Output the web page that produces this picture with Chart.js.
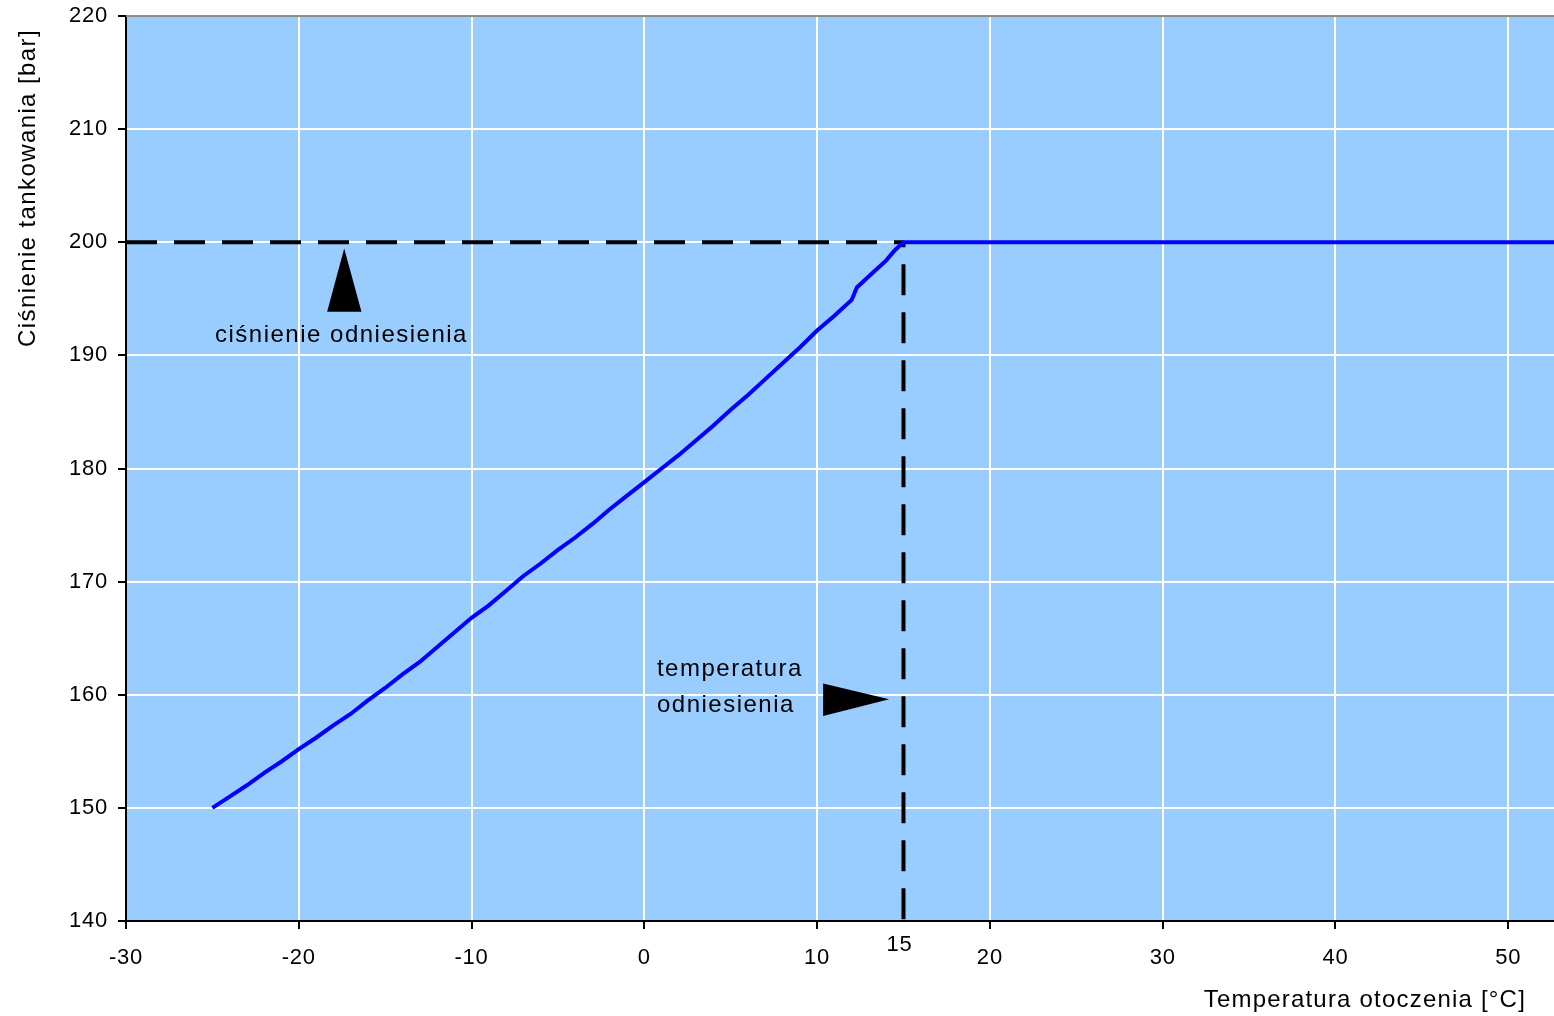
<!DOCTYPE html>
<html>
<head>
<meta charset="utf-8">
<script src="https://cdn.jsdelivr.net/npm/chart.js@4.4.1/dist/chart.umd.min.js"></script>
<style>
  html, body { margin: 0; padding: 0; background: #ffffff; }
  #wrap { width: 1554px; height: 1016px; position: relative; }
</style>
</head>
<body>
<div id="wrap"><canvas id="c" width="1554" height="1016"></canvas></div>
<script>
// ---- data ----
const temperatures = [-25,-24,-23,-22,-21,-20,-19,-18,-17,-16,-15,-14,-13,-12,-11,-10,-9,-8,-7,-6,-5,-4,-3,-2,-1,0,1,2,3,4,5,6,7,8,9,10,11,12,12.3,13,14,14.5,15,55];
const pressures    = [150,151.0,152.0,153.1,154.1,155.2,156.2,157.3,158.3,159.5,160.6,161.8,162.9,164.2,165.5,166.8,167.9,169.2,170.5,171.6,172.8,173.9,175.1,176.4,177.6,178.8,180.0,181.2,182.5,183.8,185.2,186.5,187.9,189.3,190.7,192.2,193.5,194.9,196.0,197.0,198.4,199.3,200,200];
const refPressureLineX = [-30, 15];
const refPressureLineY = [200, 200];
const refTempLineX = [15, 15];
const refTempLineY = [200, 140];
const xTickValues = [-30,-20,-10,0,10,20,30,40,50];
const extraXTick = 15;
const xMin = -30, xMax = 52.65, yMin = 140, yMax = 220, yStep = 10;
const xTitle = 'Temperatura otoczenia [°C]';
const yTitle = 'Ciśnienie tankowania [bar]';
const labelPressure = 'ciśnienie odniesienia';
const labelTemp = ['temperatura', 'odniesienia'];

const toPts = (xs, ys) => xs.map((x, i) => ({x: x, y: ys[i]}));
const FONT = '"Liberation Sans", Arial, sans-serif';

const decor = {
  id: 'decor',
  beforeDraw(chart) {
    const {ctx, chartArea: a} = chart;
    ctx.save();
    ctx.fillStyle = '#99CCFF';
    ctx.fillRect(a.left, a.top, a.right - a.left, a.bottom - a.top);
    ctx.restore();
    ctx.letterSpacing = '0.8px';
  },
  afterDatasetsDraw(chart) {
    const {ctx, chartArea: a, scales: {x, y}} = chart;
    ctx.save();
    // top border
    ctx.strokeStyle = '#8c8c8c';
    ctx.lineWidth = 2;
    ctx.beginPath();
    ctx.moveTo(a.left, a.top);
    ctx.lineTo(a.right, a.top);
    ctx.stroke();

    // up arrow
    ctx.fillStyle = '#000';
    ctx.beginPath();
    ctx.moveTo(x.getPixelForValue(-17.37), y.getPixelForValue(199.45));
    ctx.lineTo(x.getPixelForValue(-16.37), y.getPixelForValue(193.86));
    ctx.lineTo(x.getPixelForValue(-18.36), y.getPixelForValue(193.86));
    ctx.closePath();
    ctx.fill();
    // right arrow
    ctx.beginPath();
    ctx.moveTo(x.getPixelForValue(14.17), y.getPixelForValue(159.6));
    ctx.lineTo(x.getPixelForValue(10.35), y.getPixelForValue(161.0));
    ctx.lineTo(x.getPixelForValue(10.35), y.getPixelForValue(158.12));
    ctx.closePath();
    ctx.fill();

    // annotation texts
    ctx.fillStyle = '#000';
    ctx.font = '24px ' + FONT;
    ctx.letterSpacing = '1.5px';
    ctx.textAlign = 'left';
    ctx.textBaseline = 'middle';
    ctx.fillText(labelPressure, x.getPixelForValue(-24.85), y.getPixelForValue(191.8));
    ctx.fillText(labelTemp[0], x.getPixelForValue(0.73), y.getPixelForValue(162.2));
    ctx.fillText(labelTemp[1], x.getPixelForValue(0.73), y.getPixelForValue(159.1));

    // extra tick label 15
    ctx.font = '22px ' + FONT;
    ctx.letterSpacing = '0.8px';
    ctx.textAlign = 'center';
    ctx.fillText(String(extraXTick), x.getPixelForValue(extraXTick) - 4, a.bottom + 24);

    // axis titles
    ctx.font = '24px ' + FONT;
    ctx.letterSpacing = '1.2px';
    ctx.textAlign = 'right';
    ctx.fillText(xTitle, 1526, 1000);
    ctx.save();
    ctx.translate(28, 188);
    ctx.rotate(-Math.PI / 2);
    ctx.textAlign = 'center';
    ctx.letterSpacing = '1.4px';
    ctx.fillText(yTitle, 0, 0);
    ctx.restore();
    ctx.restore();
  },
  afterDraw(chart) {
    chart.ctx.letterSpacing = '0px';
  }
};

new Chart(document.getElementById('c'), {
  type: 'line',
  data: {
    datasets: [
      {
        data: toPts(temperatures, pressures),
        borderColor: '#0000FF',
        borderWidth: 4,
        pointRadius: 0,
        tension: 0,
        order: 0
      },
      {
        data: toPts(refPressureLineX, refPressureLineY),
        borderColor: '#000000',
        borderWidth: 4,
        borderDash: [31, 17],
        borderCapStyle: 'butt',
        pointRadius: 0,
        order: 1
      },
      {
        data: toPts(refTempLineX, refTempLineY),
        borderColor: '#000000',
        borderWidth: 4,
        borderDash: [31, 17],
        borderDashOffset: 26,
        borderCapStyle: 'butt',
        pointRadius: 0,
        order: 2
      }
    ]
  },
  options: {
    responsive: false,
    animation: false,
    devicePixelRatio: 1,
    layout: { padding: { top: 16, right: 0, left: 0, bottom: 0 } },
    plugins: { legend: { display: false }, tooltip: { enabled: false } },
    scales: {
      x: {
        type: 'linear',
        min: xMin, max: xMax,
        afterBuildTicks: (s) => { s.ticks = xTickValues.map(v => ({value: v})); },
        afterFit: (s) => { s.height = 95; s.paddingLeft = 0; s.paddingRight = 0; },
        grid: { color: '#ffffff', lineWidth: 2, tickColor: '#000000', tickLength: 8, drawTicks: true },
        border: { display: true, color: '#000000', width: 2 },
        ticks: { color: '#000', font: { family: FONT, size: 22 }, padding: 16, maxRotation: 0, autoSkip: false }
      },
      y: {
        type: 'linear',
        min: yMin, max: yMax,
        ticks: { stepSize: yStep, color: '#000', font: { family: FONT, size: 22 }, padding: 10 },
        afterFit: (s) => { s.width = 126; s.paddingTop = 0; s.paddingBottom = 0; },
        grid: { color: '#ffffff', lineWidth: 2, tickColor: '#000000', tickLength: 8, drawTicks: true },
        border: { display: true, color: '#000000', width: 2 }
      }
    }
  },
  plugins: [decor]
});
</script>
</body>
</html>
